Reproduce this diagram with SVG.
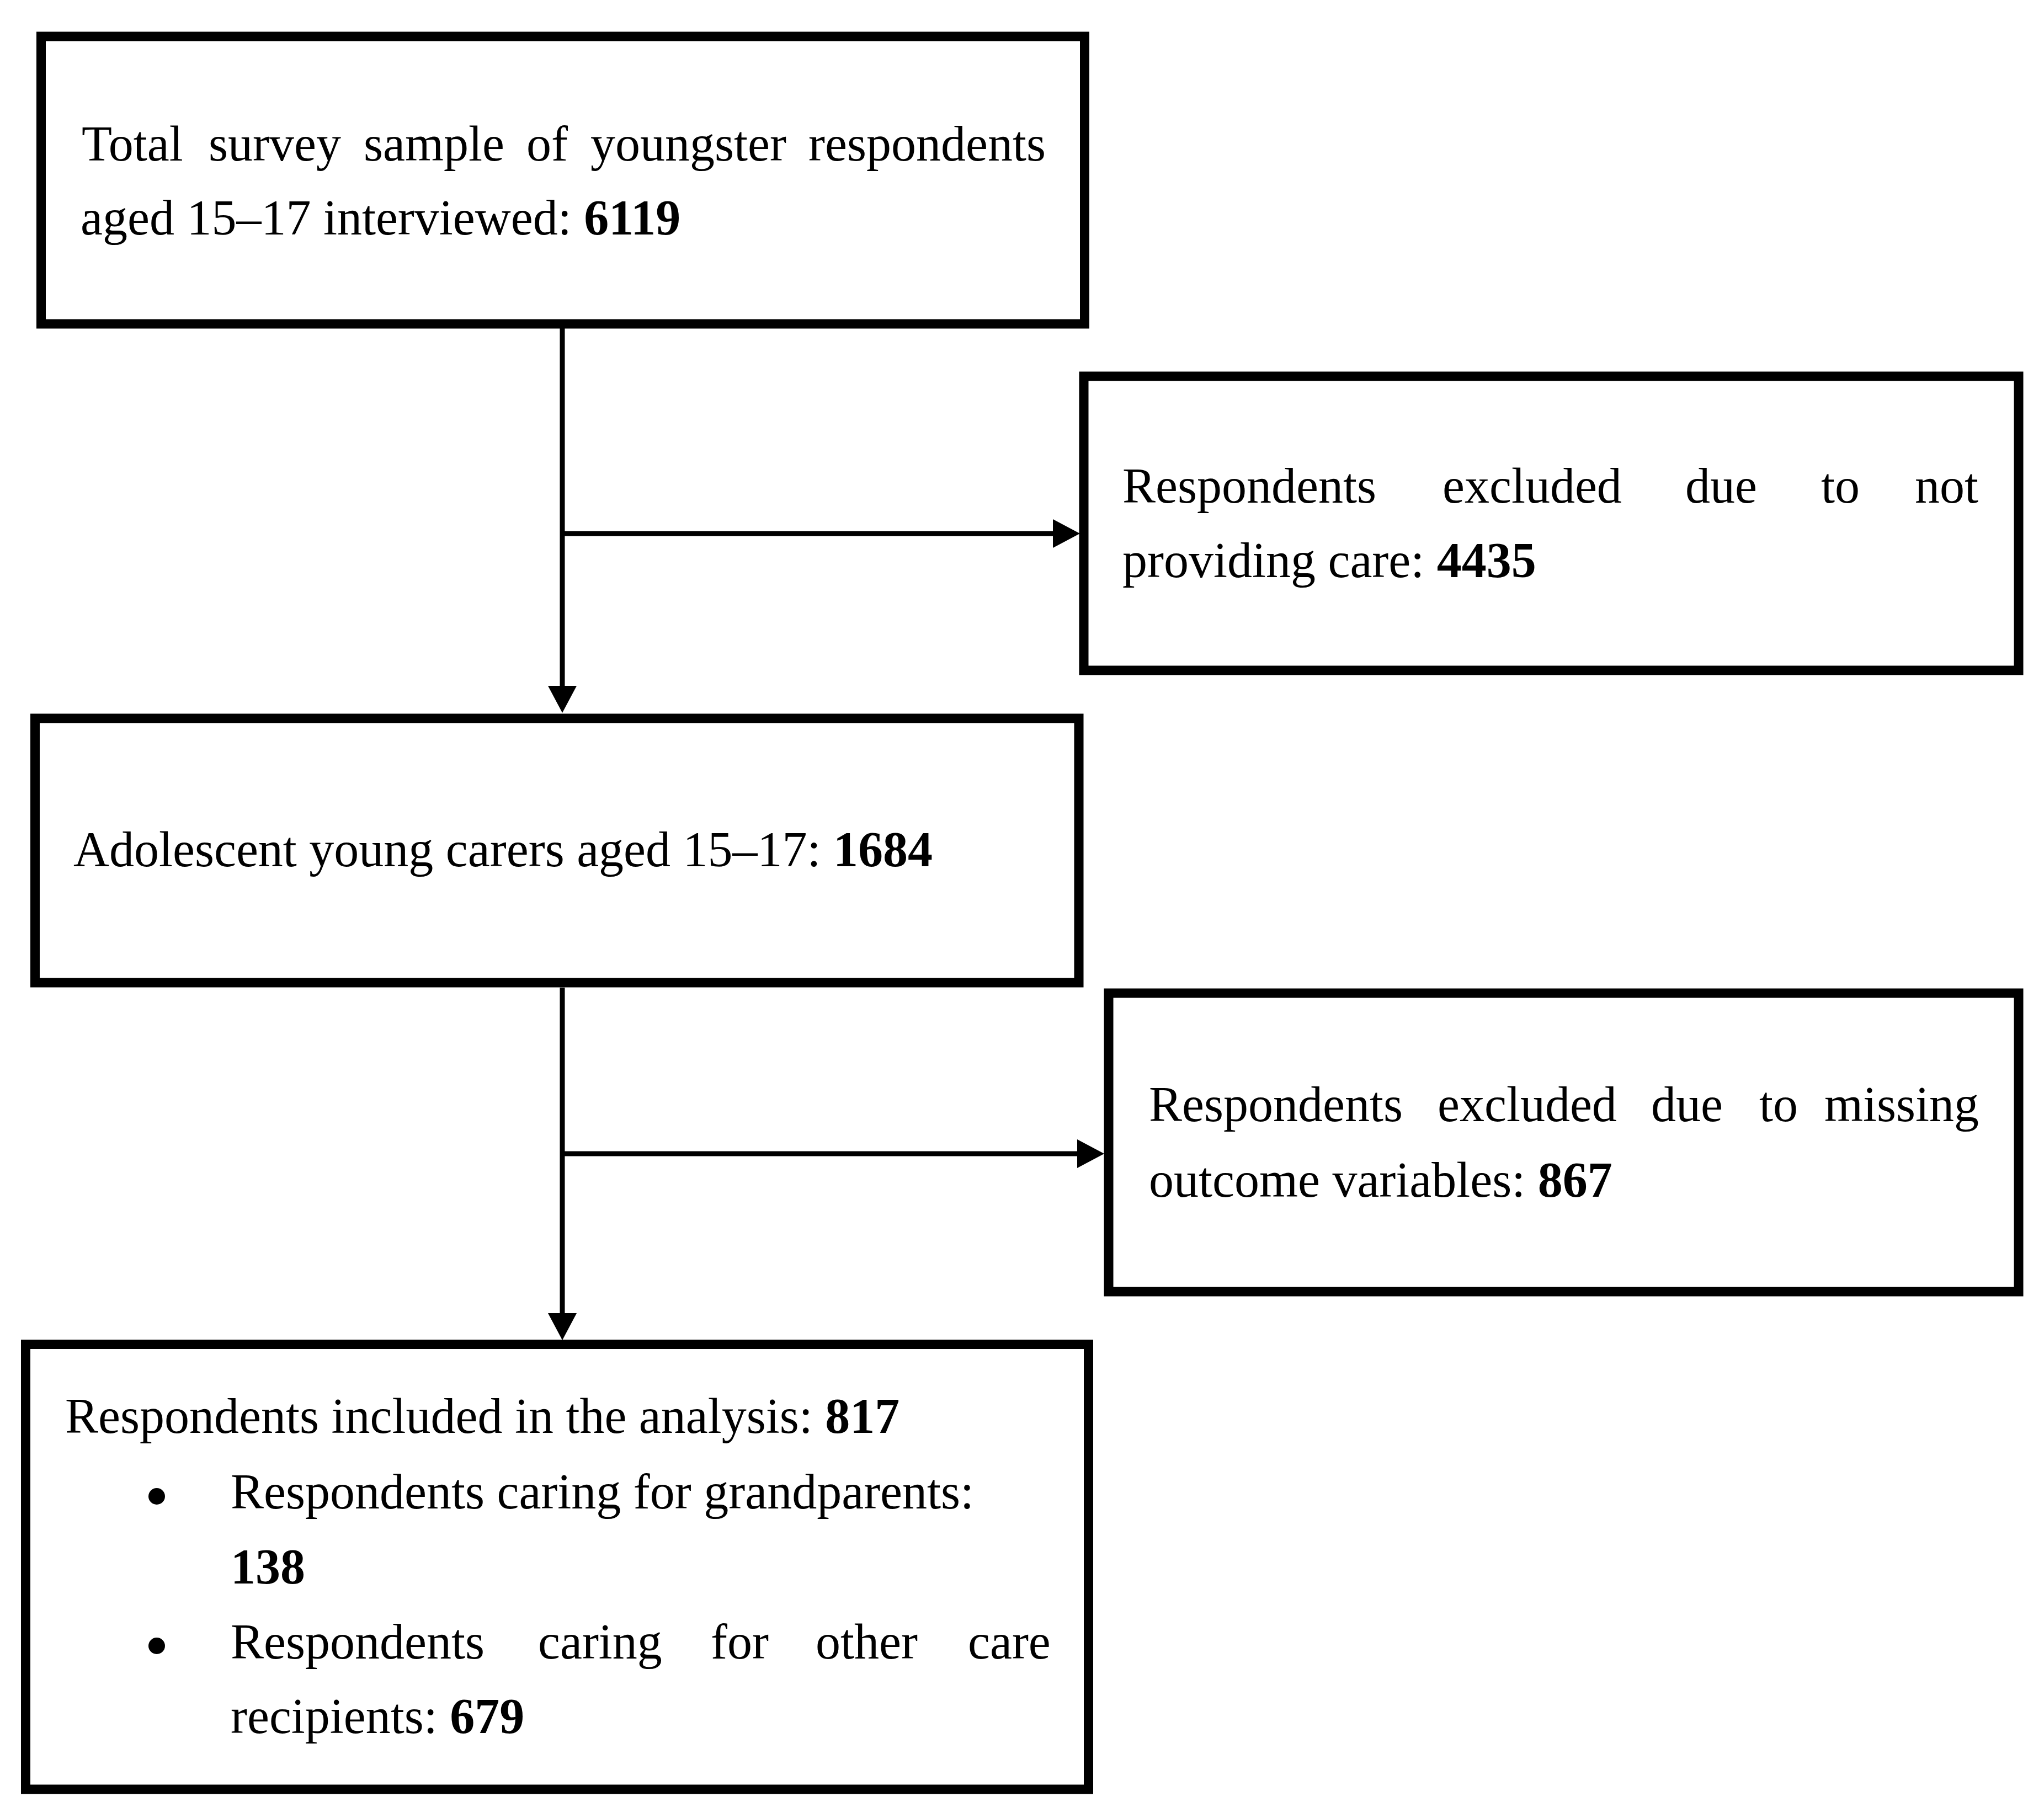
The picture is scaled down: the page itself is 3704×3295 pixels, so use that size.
<svg xmlns="http://www.w3.org/2000/svg" width="3704" height="3295" viewBox="0 0 3704 3295">
<style>
.box{fill:#fff;stroke:#000;stroke-width:17}
.t{font-family:"Liberation Serif","Times New Roman",serif;font-size:90px;fill:#000}
.b{font-weight:bold}
.c{fill:none;stroke:#000;stroke-width:9}
</style>
<defs>
<marker id="ah" markerUnits="userSpaceOnUse" markerWidth="60" markerHeight="60" refX="0" refY="26" orient="auto" overflow="visible">
<path d="M0,0 L49,26 L0,52 Z" fill="#000"/>
</marker>
</defs>
<rect width="3704" height="3295" fill="#fff"/>
<g id="connectors">
<line class="c" x1="1019" y1="595" x2="1019" y2="1243" marker-end="url(#ah)"/>
<line class="c" x1="1019" y1="967" x2="1908" y2="967" marker-end="url(#ah)"/>
<line class="c" x1="1019" y1="1790" x2="1019" y2="2380" marker-end="url(#ah)"/>
<line class="c" x1="1019" y1="2091" x2="1952" y2="2091" marker-end="url(#ah)"/>
</g>
<g id="n1">
<rect class="box" x="74.5" y="66" width="1891" height="521"/>
<text class="t" y="291"><tspan x="148">Total</tspan><tspan x="378">survey</tspan><tspan x="659">sample</tspan><tspan x="954">of</tspan><tspan x="1070">youngster</tspan><tspan x="1465">respondents</tspan></text>
<text class="t" x="146" y="425">aged 15–17 interviewed: <tspan class="b">6119</tspan></text>
</g>
<g id="n2">
<rect class="box" x="1964" y="682" width="1694" height="533"/>
<text class="t" y="911"><tspan x="2034">Respondents</tspan><tspan x="2614">excluded</tspan><tspan x="3054">due</tspan><tspan x="3300">to</tspan><tspan x="3470">not</tspan></text>
<text class="t" x="2034" y="1046">providing care: <tspan class="b">4435</tspan></text>
</g>
<g id="n3">
<rect class="box" x="63.5" y="1302" width="1891.5" height="479"/>
<text class="t" x="133" y="1570">Adolescent young carers aged 15–17: <tspan class="b">1684</tspan></text>
</g>
<g id="n4">
<rect class="box" x="2009" y="1800" width="1649" height="541"/>
<text class="t" y="2032"><tspan x="2082">Respondents</tspan><tspan x="2605">excluded</tspan><tspan x="2992">due</tspan><tspan x="3188">to</tspan><tspan x="3306">missing</tspan></text>
<text class="t" x="2082" y="2169">outcome variables: <tspan class="b">867</tspan></text>
</g>
<g id="n5">
<rect class="box" x="46.5" y="2436.5" width="1926" height="806.5"/>
<text class="t" x="118" y="2597">Respondents included in the analysis: <tspan class="b">817</tspan></text>
<circle cx="284" cy="2712" r="15" fill="#000"/>
<text class="t" x="418" y="2734">Respondents caring for grandparents:</text>
<text class="t b" x="418" y="2870">138</text>
<circle cx="284" cy="2983" r="15" fill="#000"/>
<text class="t" y="3006"><tspan x="418">Respondents</tspan><tspan x="975">caring</tspan><tspan x="1288">for</tspan><tspan x="1478">other</tspan><tspan x="1754">care</tspan></text>
<text class="t" x="418" y="3141">recipients: <tspan class="b">679</tspan></text>
</g>
</svg>
